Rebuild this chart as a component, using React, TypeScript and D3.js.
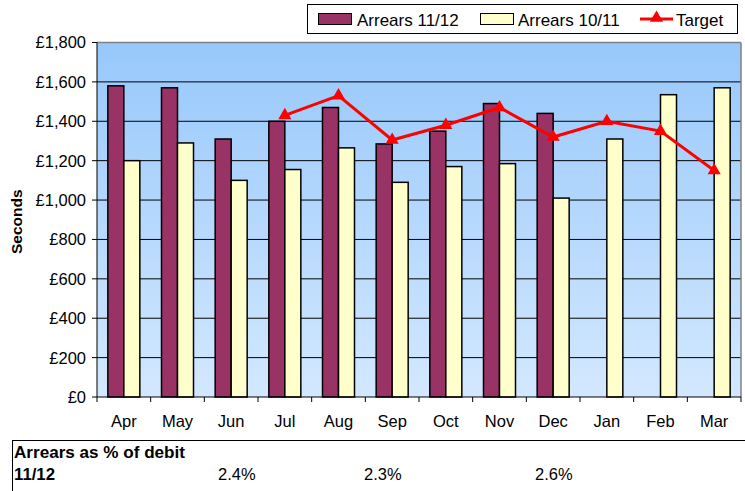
import React from "react";
import * as d3 from "d3";

const months = ["Apr", "May", "Jun", "Jul", "Aug", "Sep", "Oct", "Nov", "Dec", "Jan", "Feb", "Mar"];
const arrears1112: (number | null)[] = [1580, 1570, 1310, 1400, 1470, 1285, 1350, 1490, 1440, null, null, null];
const arrears1011: number[] = [1200, 1290, 1100, 1155, 1265, 1090, 1170, 1185, 1010, 1310, 1535, 1570];
const target: (number | null)[] = [null, null, null, 1430, 1530, 1305, 1380, 1470, 1320, 1400, 1350, 1150];
const yTicks = [0, 200, 400, 600, 800, 1000, 1200, 1400, 1600, 1800];
const tableTitle = "Arrears as % of debit";
const tableRowLabel = "11/12";
const pctValues = [
  { label: "2.4%", x: 218 },
  { label: "2.3%", x: 364 },
  { label: "2.6%", x: 535 },
];

const W = 745;
const H = 491;
const plot = { left: 97, right: 741, top: 42.5, bottom: 397 };
const font = "Arial, 'Liberation Sans', sans-serif";

export default function App() {
  const x = d3.scaleBand<string>().domain(months).range([plot.left, plot.right]).padding(0);
  const y = d3.scaleLinear().domain([0, 1800]).range([plot.bottom, plot.top]);
  const bw = 16;
  const fmt = (v: number) => "£" + d3.format(",")(v);
  const cx = (m: string) => (x(m) as number) + x.bandwidth() / 2;

  const tPts = months
    .map((m, i) => ({ m, v: target[i] }))
    .filter((d) => d.v != null) as { m: string; v: number }[];
  const line = d3
    .line<{ m: string; v: number }>()
    .x((d) => cx(d.m))
    .y((d) => y(d.v));
  const tri = d3.symbol().type(d3.symbolTriangle).size(75)();

  return (
    <svg
      width={W}
      height={H}
      style={{ position: "absolute", left: 0, top: 0, fontFamily: font }}
    >
      <defs>
        <linearGradient id="bg" x1="0" y1="0" x2="0" y2="1">
          <stop offset="0%" stopColor="#97C8FB" />
          <stop offset="100%" stopColor="#D3E8FF" />
        </linearGradient>
      </defs>
      <rect x={0} y={0} width={W} height={H} fill="#fff" />
      <rect
        x={plot.left}
        y={plot.top}
        width={plot.right - plot.left}
        height={plot.bottom - plot.top}
        fill="url(#bg)"
      />
      {yTicks.map((t) => (
        <g key={t}>
          {t > 0 && t < 1800 && (
            <line x1={plot.left} x2={plot.right} y1={y(t)} y2={y(t)} stroke="#000" strokeWidth={1} />
          )}
          <line x1={plot.left - 5} x2={plot.left} y1={y(t)} y2={y(t)} stroke="#000" />
          <text x={86} y={y(t)} dy="0.36em" textAnchor="end" fontSize={16.5}>
            {fmt(t)}
          </text>
        </g>
      ))}
      {/* plot border top/right */}
      <line x1={plot.left} x2={plot.right} y1={plot.top} y2={plot.top} stroke="#808080" strokeWidth={1.5} />
      <line x1={plot.right} x2={plot.right} y1={plot.top} y2={plot.bottom} stroke="#808080" strokeWidth={1.5} />
      {/* bars */}
      {months.map((m, i) => {
        const a = arrears1112[i];
        const b = arrears1011[i];
        return (
          <g key={m}>
            {a != null && (
              <rect
                x={cx(m) - bw}
                y={y(a)}
                width={bw}
                height={plot.bottom - y(a)}
                fill="#993366"
                stroke="#000"
                strokeWidth={1.5}
              />
            )}
            <rect
              x={cx(m)}
              y={y(b)}
              width={bw}
              height={plot.bottom - y(b)}
              fill="#FFFFCC"
              stroke="#000"
              strokeWidth={1.5}
            />
          </g>
        );
      })}
      {/* axes */}
      <line x1={plot.left} x2={plot.left} y1={plot.top} y2={plot.bottom} stroke="#000" />
      <line x1={plot.left} x2={plot.right} y1={plot.bottom} y2={plot.bottom} stroke="#000" />
      {months.map((m) => (
        <line
          key={"t" + m}
          x1={x(m) as number}
          x2={x(m) as number}
          y1={plot.bottom}
          y2={plot.bottom + 5}
          stroke="#000"
        />
      ))}
      <line x1={plot.right} x2={plot.right} y1={plot.bottom} y2={plot.bottom + 5} stroke="#000" />
      {months.map((m) => (
        <text key={"l" + m} x={cx(m)} y={427} textAnchor="middle" fontSize={16.5}>
          {m}
        </text>
      ))}
      {/* target line */}
      <path d={line(tPts) || ""} fill="none" stroke="#FF0000" strokeWidth={3} />
      {tPts.map((d) => (
        <path key={"m" + d.m} d={tri || ""} transform={`translate(${cx(d.m)},${y(d.v)})`} fill="#FF0000" />
      ))}
      {/* y title */}
      <text
        transform={`translate(22,${(plot.top + plot.bottom) / 2 + 2}) rotate(-90)`}
        textAnchor="middle"
        fontSize={15.5}
        fontWeight="bold"
      >
        Seconds
      </text>
      {/* legend */}
      <rect x={307.5} y={4.5} width={430} height={29} fill="#fff" stroke="#000" />
      <rect x={318.5} y={13.5} width={33} height={11} fill="#993366" stroke="#000" />
      <text x={357} y={26} fontSize={17}>
        Arrears 11/12
      </text>
      <rect x={480.5} y={13.5} width={33} height={11} fill="#FFFFCC" stroke="#000" />
      <text x={518} y={26} fontSize={17}>
        Arrears 10/11
      </text>
      <line x1={640} x2={673} y1={19} y2={19} stroke="#FF0000" strokeWidth={3} />
      <path d={tri || ""} transform="translate(656.5,18)" fill="#FF0000" />
      <text x={676} y={26} fontSize={17}>
        Target
      </text>
      {/* table */}
      <rect x={12.5} y={440.5} width={740} height={60} fill="#fff" stroke="#000" />
      <text x={14} y={458} fontSize={16} fontWeight="bold" textLength={171} lengthAdjust="spacingAndGlyphs">
        {tableTitle}
      </text>
      <text x={14} y={480} fontSize={16} fontWeight="bold" textLength={41} lengthAdjust="spacingAndGlyphs">
        {tableRowLabel}
      </text>
      {pctValues.map((p) => (
        <text key={p.label} x={p.x} y={480} fontSize={16.5}>
          {p.label}
        </text>
      ))}
    </svg>
  );
}
